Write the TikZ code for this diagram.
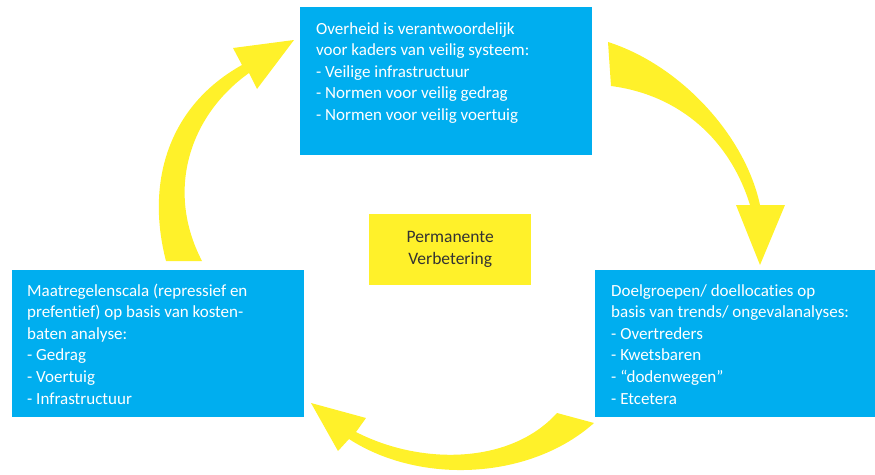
\documentclass[tikz,border=0pt]{standalone}
\usepackage{fontspec}
\setmainfont{Carlito}[Ligatures=NoCommon]
\definecolor{boxblue}{HTML}{00AEEF}
\definecolor{arrowyellow}{HTML}{FFF12A}
\definecolor{darktext}{HTML}{333333}
\begin{document}
\begin{tikzpicture}[x=1pt,y=-1pt,
  bluebox/.style={fill=boxblue, draw=none, anchor=north west, inner sep=0pt},
  boxtext/.style={text=white, align=left, anchor=base west, inner sep=0pt,
    font={\fontsize{17pt}{21.6pt}\selectfont}},
  centerbox/.style={fill=arrowyellow, draw=none, anchor=north west, inner sep=0pt,
    text=darktext, align=center, font={\fontsize{17.5pt}{22pt}\selectfont}},
  bigarrow/.style={fill=arrowyellow, draw=none}]
\useasboundingbox (0,0) rectangle (875,474);
% boxes
\node[bluebox, minimum width=292pt, minimum height=148pt] (top) at (300,7) {};
\node[bluebox, minimum width=280pt, minimum height=147pt] (right) at (595,270) {};
\node[bluebox, minimum width=292pt, minimum height=147pt] (left) at (12,270) {};
\node[centerbox, minimum width=162pt, minimum height=71pt] (pv) at (369,214) {Permanente\\Verbetering};
% texts (base anchor = baseline of the last line)
\node[boxtext] (toptext) at (316,120.4) {Overheid is verantwoordelijk\\voor kaders van veilig systeem:\\- Veilige infrastructuur\\- Normen voor veilig gedrag\\- Normen voor veilig voertuig};
\node[boxtext] (righttext) at (611,404) {Doelgroepen/ doellocaties op\\basis van trends/ ongevalanalyses:\\- Overtreders\\- Kwetsbaren\\- “dodenwegen”\\- Etcetera};
\node[boxtext] (lefttext) at (27,404) {Maatregelenscala (repressief en\\prefentief) op basis van kosten-\\baten analyse:\\- Gedrag\\- Voertuig\\- Infrastructuur};
% arrows
\fill[bigarrow] (608,42) .. controls (680,65) and (745,135) .. (760,205)
  -- (785,205) -- (760,265) -- (736,205) -- (750,205)
  .. controls (730,140) and (680,95) .. (611,86) -- cycle;
\fill[bigarrow] (594,423) .. controls (530,480) and (420,485) .. (349,439)
  -- (338,451) -- (311,403) -- (366,418) -- (356,432)
  .. controls (420,465) and (510,465) .. (557,413) -- cycle;
\fill[bigarrow] (166,261) .. controls (145,180) and (170,105) .. (242,65)
  -- (233,48) -- (294,40) -- (257,89) -- (249,73)
  .. controls (190,115) and (165,190) .. (202,261) -- cycle;
\end{tikzpicture}
\end{document}
